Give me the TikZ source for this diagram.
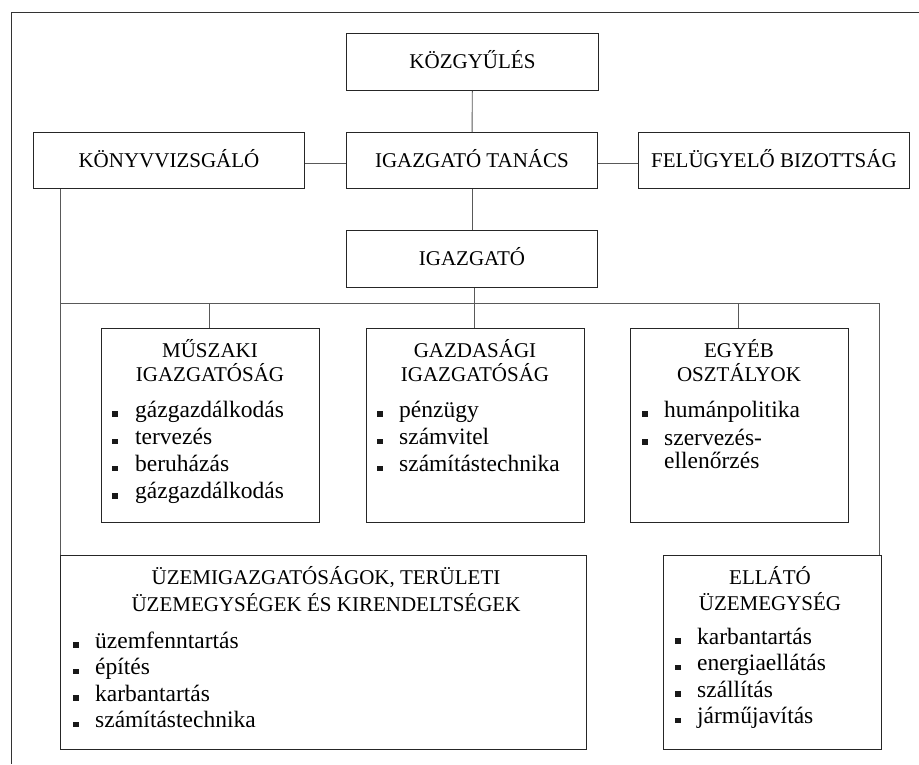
\documentclass[tikz,border=0pt]{standalone}
\usepackage{fontspec}
\setmainfont{Liberation Serif}
\begin{document}
\begin{tikzpicture}[x=1pt,y=-1pt,
  box/.style={draw=black!85, line width=0.9pt, rectangle, inner sep=0pt, anchor=north west},
  label/.style={font=\fontsize{21}{24}\selectfont, text height=14pt, text depth=0pt},
  link/.style={draw=black!65, line width=0.9pt},
  frame/.style={draw=black!80, line width=0.9pt},
  head/.style={font=\fontsize{21}{24}\selectfont, anchor=base, inner sep=0pt},
  item/.style={font=\fontsize{23.5}{27.5}\selectfont, anchor=base west, inner sep=0pt},
  sq/.style={fill=black!90, minimum size=5.5pt, inner sep=0pt, anchor=south west}]
\useasboundingbox (0,0) rectangle (919,764);
\fill[white] (0,0) rectangle (919,764);

% page frame
\draw[frame] (919,12) -- (11,12) -- (11,764);

% upper boxes
\node[box, label, minimum width=252pt, minimum height=57pt] (kozgy) at (346,33) {KÖZGYŰLÉS};
\node[box, label, minimum width=271pt, minimum height=56pt] (konyv) at (33,132) {KÖNYVVIZSGÁLÓ};
\node[box, label, minimum width=251pt, minimum height=56pt] (tanacs) at (346,132) {IGAZGATÓ TANÁCS};
\node[box, label, minimum width=271pt, minimum height=56pt] (felugy) at (638,132) {FELÜGYELŐ BIZOTTSÁG};
\node[box, label, minimum width=251pt, minimum height=57pt] (igazg) at (346,230) {IGAZGATÓ};

% department boxes
\node[box, minimum width=218pt, minimum height=194pt] (musz) at (101,328) {};
\node[box, minimum width=218pt, minimum height=194pt] (gazd) at (366,328) {};
\node[box, minimum width=218pt, minimum height=194pt] (egyeb) at (630,328) {};
\node[box, minimum width=526pt, minimum height=194pt] (uzem) at (60,555) {};
\node[box, minimum width=218pt, minimum height=194pt] (ellato) at (663,555) {};

% connectors
\coordinate (busL) at (60,303);
\coordinate (busR) at (879,303);
\draw[link] (kozgy) -- (tanacs);
\draw[link] (tanacs) -- (igazg);
\draw[link] (konyv.east |- 0,163) -- (tanacs.west |- 0,163);
\draw[link] (tanacs.east |- 0,163) -- (felugy.west |- 0,163);
\draw[link] (konyv.south -| busL) -- (uzem.north west);
\draw[link] (busL) -- (busR) -- (ellato.north -| busR);
\draw[link] (igazg.south -| 474,0) -- (474,303);
\draw[link] (209,303) -- (musz.north -| 209,0);
\draw[link] (gazd.north -| 474,0) -- (474,303);
\draw[link] (738,303) -- (egyeb.north -| 738,0);

% titles
\node[head] (muszA) at (210,357) {MŰSZAKI};
\node[head] (muszB) at (210,381) {IGAZGATÓSÁG};
\node[head] (gazdA) at (475,357) {GAZDASÁGI};
\node[head] (gazdB) at (475,381) {IGAZGATÓSÁG};
\node[head] (egyebA) at (739,357) {EGYÉB};
\node[head] (egyebB) at (739,381) {OSZTÁLYOK};
\node[head] (uzemA) at (326,584) {ÜZEMIGAZGATÓSÁGOK, TERÜLETI};
\node[head] (uzemB) at (326,611) {ÜZEMEGYSÉGEK ÉS KIRENDELTSÉGEK};
\node[head] (ellatoA) at (770,584) {ELLÁTÓ};
\node[head] (ellatoB) at (770,610) {ÜZEMEGYSÉG};

% item lists
\foreach \t [count=\i from 0] in {gázgazdálkodás, tervezés, beruházás, gázgazdálkodás} {
  \node[sq] (muszS\i) at (112,417+27.3*\i) {};
  \node[item] (muszT\i) at (135,417+27.3*\i) {\t};
}
\foreach \t [count=\i from 0] in {pénzügy, számvitel, számítástechnika} {
  \node[sq] (gazdS\i) at (377,417+27.3*\i) {};
  \node[item] (gazdT\i) at (399,417+27.3*\i) {\t};
}
\node[sq] (egyebS0) at (642,417) {};
\node[item] (egyebT0) at (664,417) {humánpolitika};
\node[sq] (egyebS1) at (642,445) {};
\node[item] (egyebT1) at (664,445) {szervezés-};
\node[item] (egyebT2) at (664,468.5) {ellenőrzés};
\foreach \t [count=\i from 0] in {üzemfenntartás, építés, karbantartás, számítástechnika} {
  \node[sq] (uzemS\i) at (73,648+26.5*\i) {};
  \node[item] (uzemT\i) at (95,648+26.5*\i) {\t};
}
\foreach \t [count=\i from 0] in {karbantartás, energiaellátás, szállítás, járműjavítás} {
  \node[sq] (ellatoS\i) at (675,644+26.5*\i) {};
  \node[item] (ellatoT\i) at (697,644+26.5*\i) {\t};
}
\end{tikzpicture}
\end{document}
